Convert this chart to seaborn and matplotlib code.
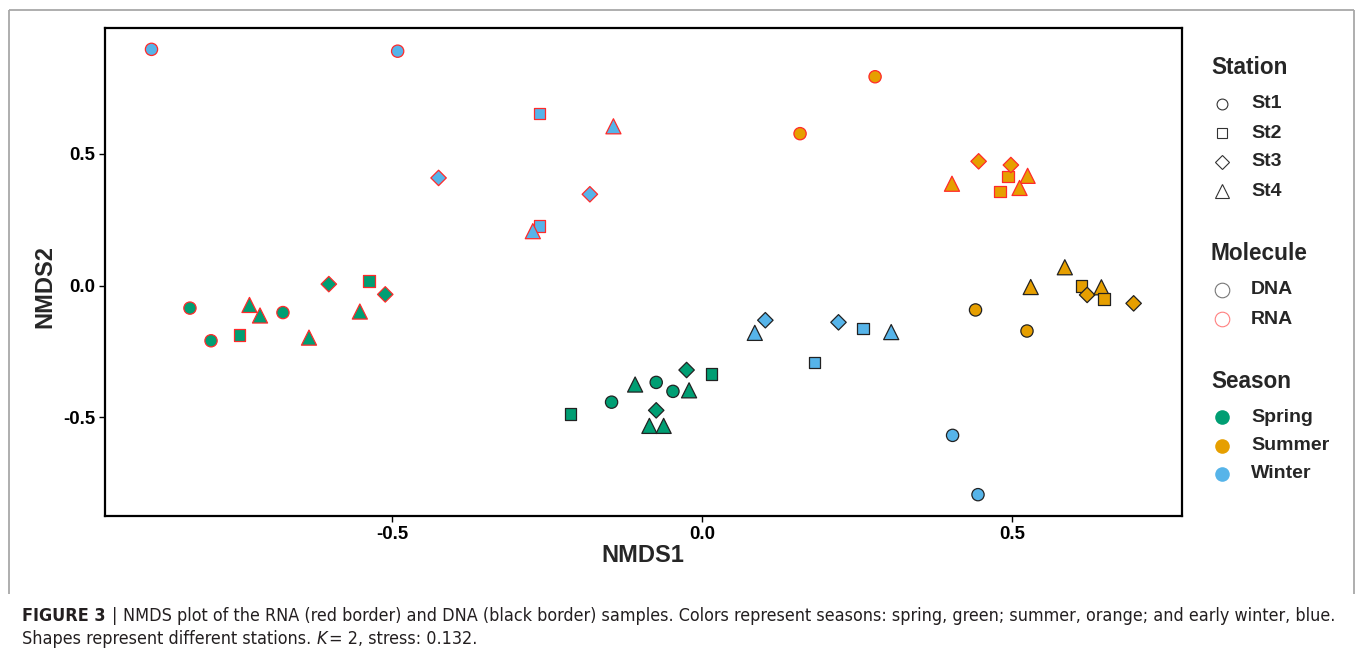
import matplotlib
matplotlib.use("Agg")
import matplotlib.pyplot as plt
import numpy as np
import pandas as pd
import seaborn as sns
from matplotlib import font_manager as fm
from matplotlib.lines import Line2D

# ---------------- data ----------------
# Spring
spring_rna_x = [-0.826, -0.792, -0.746, -0.730, -0.713, -0.676, -0.634, -0.602, -0.537, -0.511, -0.552]
spring_rna_y = [-0.085, -0.209, -0.188, -0.073, -0.113, -0.102, -0.197, 0.006, 0.019, -0.033, -0.098]
spring_rna_st = ["St1", "St1", "St2", "St4", "St4", "St1", "St4", "St3", "St2", "St3", "St4"]

spring_dna_x = [-0.212, -0.146, -0.108, -0.074, -0.047, -0.025, 0.015, -0.021, -0.074, -0.085, -0.062]
spring_dna_y = [-0.488, -0.442, -0.375, -0.367, -0.401, -0.320, -0.336, -0.397, -0.473, -0.532, -0.532]
spring_dna_st = ["St2", "St1", "St4", "St1", "St1", "St3", "St2", "St4", "St3", "St4", "St4"]

# Summer
summer_rna_x = [0.279, 0.158, 0.446, 0.493, 0.498, 0.525, 0.403, 0.480, 0.512]
summer_rna_y = [0.793, 0.577, 0.472, 0.414, 0.458, 0.417, 0.387, 0.357, 0.371]
summer_rna_st = ["St1", "St1", "St3", "St2", "St3", "St4", "St4", "St2", "St4"]

summer_dna_x = [0.441, 0.524, 0.530, 0.585, 0.612, 0.621, 0.644, 0.648, 0.696]
summer_dna_y = [-0.092, -0.172, -0.005, 0.070, 0.000, -0.035, -0.006, -0.050, -0.067]
summer_dna_st = ["St1", "St1", "St4", "St4", "St2", "St3", "St4", "St2", "St3"]

# Winter
winter_rna_x = [-0.888, -0.491, -0.425, -0.262, -0.143, -0.181, -0.262, -0.273]
winter_rna_y = [0.897, 0.890, 0.409, 0.653, 0.605, 0.347, 0.226, 0.207]
winter_rna_st = ["St1", "St1", "St3", "St2", "St4", "St3", "St2", "St4"]

winter_dna_x = [0.085, 0.102, 0.220, 0.181, 0.260, 0.305, 0.404, 0.445]
winter_dna_y = [-0.179, -0.131, -0.139, -0.291, -0.162, -0.176, -0.568, -0.793]
winter_dna_st = ["St4", "St3", "St3", "St2", "St2", "St4", "St1", "St1"]

stations = ["St1", "St2", "St3", "St4"]
molecules = ["DNA", "RNA"]
seasons = ["Spring", "Summer", "Winter"]
x_ticks = [-0.5, 0.0, 0.5]
y_ticks = [-0.5, 0.0, 0.5]

groups = [
    ("Spring", "RNA", spring_rna_x, spring_rna_y, spring_rna_st),
    ("Spring", "DNA", spring_dna_x, spring_dna_y, spring_dna_st),
    ("Summer", "RNA", summer_rna_x, summer_rna_y, summer_rna_st),
    ("Summer", "DNA", summer_dna_x, summer_dna_y, summer_dna_st),
    ("Winter", "RNA", winter_rna_x, winter_rna_y, winter_rna_st),
    ("Winter", "DNA", winter_dna_x, winter_dna_y, winter_dna_st),
]
rows = []
for sea, mol, xs, ys, sts in groups:
    for a, b, s in zip(xs, ys, sts):
        rows.append({"NMDS1": a, "NMDS2": b, "Station": s, "Molecule": mol, "Season": sea})
df = pd.DataFrame(rows)

# ---------------- style ----------------
sns.set_style("white")
plt.rcParams["font.family"] = ["Liberation Sans", "DejaVu Sans"]

palette = {"Spring": "#009E73", "Summer": "#E69F00", "Winter": "#56B4E9"}
markers = {"St1": "o", "St2": "s", "St3": "D", "St4": "^"}
sizes = {"St1": 78, "St2": 70, "St3": 62, "St4": 118}
edges = {"DNA": "#222222", "RNA": "#FF2A2A"}

W, H = 1358, 653
fig = plt.figure(figsize=(W / 100, H / 100), dpi=100)
fig.patch.set_facecolor("white")

L, R, T, B = 105, 1182, 28, 516
ax = fig.add_axes([L / W, 1 - B / H, (R - L) / W, (B - T) / H])

for mol in molecules:
    sub = df[df["Molecule"] == mol]
    sns.scatterplot(
        data=sub, x="NMDS1", y="NMDS2",
        hue="Season", hue_order=seasons, palette=palette,
        style="Station", style_order=stations, markers=markers,
        size="Station", size_order=stations, sizes=sizes,
        edgecolor=edges[mol], linewidth=0.9,
        legend=False, ax=ax, zorder=3,
    )

ax.set_xlim(-0.963, 0.774)
ax.set_ylim(-0.874, 0.978)
ax.set_xticks(x_ticks)
ax.set_yticks(y_ticks)
ax.set_xticklabels([f"{v:.1f}" for v in x_ticks])
ax.set_yticklabels([f"{v:.1f}" for v in y_ticks])
ax.tick_params(axis="both", direction="out", length=4, width=1, color="black",
               labelsize=13.4, labelcolor="black", pad=3, bottom=True, left=True)
for lab in ax.get_xticklabels() + ax.get_yticklabels():
    lab.set_fontweight("bold")
for sp in ax.spines.values():
    sp.set_visible(True)
    sp.set_linewidth(1.6)
    sp.set_color("black")
ax.set_xlabel("")
ax.set_ylabel("")
ax.grid(False)

fig.text(643 / W, 1 - 556 / H, "NMDS1", fontsize=17, fontweight="bold",
         ha="center", va="center")
fig.text(45 / W, 1 - 287 / H, "NMDS2", fontsize=17, fontweight="bold",
         ha="center", va="center", rotation=90)

# ---------------- overlay for legend and frame ----------------
ov = fig.add_axes([0, 0, 1, 1], facecolor="none")
ov.set_xlim(0, W)
ov.set_ylim(H, 0)
ov.axis("off")

# outer figure frame (open at the bottom)
frame_c = "#a8a8a8"
ov.plot([9, 9], [10, 594], color=frame_c, lw=1.3, solid_capstyle="butt")
ov.plot([9, 1354], [10, 10], color=frame_c, lw=1.3, solid_capstyle="butt")
ov.plot([1354, 1354], [10, 594], color=frame_c, lw=1.3, solid_capstyle="butt")

mx, tx, title_x = 1222, 1251, 1211
title_fs, lab_fs = 16.3, 14.0

def title(y, s):
    ov.text(title_x, y, s, fontsize=title_fs, fontweight="bold", ha="left", va="center")

def label(y, s):
    ov.text(tx, y, s, fontsize=lab_fs, fontweight="bold", ha="left", va="center")

title(68, "Station")
st_y = [104, 133, 162, 191]
st_ms = {"St1": 7.8, "St2": 7.2, "St3": 7.0, "St4": 10.5}
for s, yy in zip(stations, st_y):
    ov.plot([mx], [yy], marker=markers[s], ms=st_ms[s], mfc="none", mec="#333333", mew=0.8)
    label(yy, s)

title(253, "Molecule")
mol_y = [290, 319]
mol_ec = {"DNA": "#777777", "RNA": "#FF8080"}
for m, yy in zip(molecules, mol_y):
    ov.plot([mx], [yy], marker="o", ms=10.5, mfc="none", mec=mol_ec[m], mew=0.8)
    label(yy, m)

title(381, "Season")
sea_y = [417, 446, 474]
for s, yy in zip(seasons, sea_y):
    ov.plot([mx], [yy], marker="o", ms=10.5, mfc=palette[s], mec=palette[s], mew=0)
    label(yy, s)

# ---------------- caption ----------------
names = {f.name for f in fm.fontManager.ttflist}
cap_family = "Liberation Sans Narrow" if "Liberation Sans Narrow" in names else "DejaVu Sans"
cap_stretch = "normal" if cap_family == "Liberation Sans Narrow" else "condensed"
cap_color = "#231f20"

renderer = fig.canvas.get_renderer()

def width_of(s, fs, weight="normal", style="normal"):
    t = fig.text(0, 0, s, fontsize=fs, fontweight=weight, fontstyle=style,
                 family=cap_family, fontstretch=cap_stretch)
    w = t.get_window_extent(renderer=renderer).width
    t.remove()
    return w

line1 = [("FIGURE 3", "bold", "normal"), ("|", "normal", "normal"),
         ("NMDS plot of the RNA (red border) and DNA (black border) samples. Colors represent seasons: spring, green; summer, orange; and early winter, blue.", "normal", "normal")]
line2 = [("Shapes represent different stations.", "normal", "normal"), ("K", "normal", "italic"),
         ("= 2, stress: 0.132.", "normal", "normal")]

def line_width(pieces, fs):
    gap = width_of("x x", fs) - width_of("xx", fs)
    return sum(width_of(p, fs, w, s) for p, w, s in pieces) + gap * (len(pieces) - 1), gap

fs0 = 12.0
w0, _ = line_width(line1, fs0)
cap_fs = fs0 * (1313.0 / w0)

def draw_line(pieces, x0, y, fs, gaps):
    x = x0
    for i, (p, w, s) in enumerate(pieces):
        t = ov.text(x, y, p, fontsize=fs, fontweight=w, fontstyle=s, family=cap_family,
                    fontstretch=cap_stretch, color=cap_color, ha="left", va="baseline")
        x += t.get_window_extent(renderer=renderer).width * 1.0 + gaps[i]

_, g = line_width(line1, cap_fs)
draw_line(line1, 22, 621, cap_fs, [g * 1.2, g * 1.2, 0])
draw_line(line2, 22, 644, cap_fs, [g, g * 0.4, 0])

fig.savefig("out.png", dpi=100, facecolor="white")
